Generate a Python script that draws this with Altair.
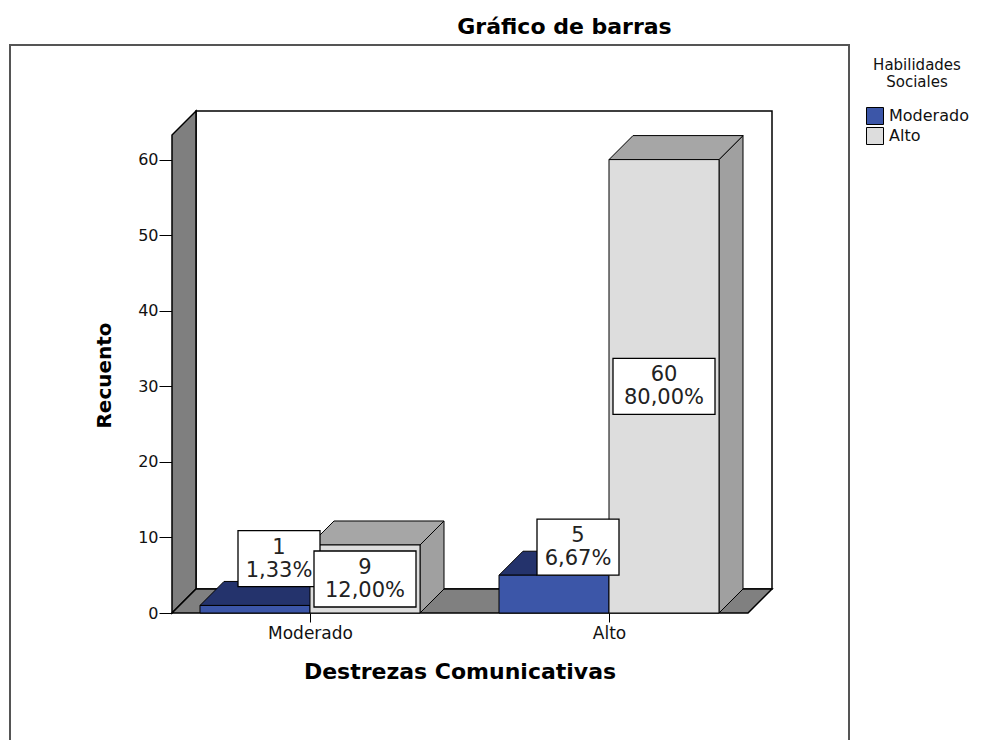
import altair as alt
import pandas as pd

# ---------------- data ----------------
categories = ["Moderado", "Alto"]            # Destrezas Comunicativas
series = ["Moderado", "Alto"]                # Habilidades Sociales
counts_moderado = [1, 5]                     # HS = Moderado
counts_alto = [9, 60]                        # HS = Alto
y_ticks = [0, 10, 20, 30, 40, 50, 60]

counts = [counts_moderado, counts_alto]
total = sum(counts_moderado) + sum(counts_alto)

# ---------------- layout (pixels) ----------------
W, H = 839, 700
PX_X = 299.0          # pixels between category centres
PX_Y = 7.557          # pixels per count unit
X0_PX = 300.0         # first category centre from plot left
Y0_PX = 568.0         # zero count from plot top
BAR_PX = 110.0
DEPTH_PX = 24.0
WALL_L_PX, WALL_R_PX, WALL_TOP_PX = 162.0, 738.0, 90.0
BOX_H_PX = 56.0

bw = BAR_PX / PX_X
dx = DEPTH_PX / PX_X
dy = DEPTH_PX / PX_Y
x_dom = [-X0_PX / PX_X, (W - X0_PX) / PX_X]
y_dom = [-(H - Y0_PX) / PX_Y, Y0_PX / PX_Y]
wall_l = (WALL_L_PX - X0_PX) / PX_X
wall_r = (WALL_R_PX - X0_PX) / PX_X
wall_top = (Y0_PX - WALL_TOP_PX) / PX_Y
box_h = BOX_H_PX / PX_Y

FRONT = {"Moderado": "#3c56a8", "Alto": "#dddddd"}
TOP = {"Moderado": "#24336c", "Alto": "#a6a6a6"}
SIDE = {"Moderado": "#24336c", "Alto": "#a0a0a0"}

bars, sides, tops = [], [], []
for i, cat in enumerate(categories):
    for j, s in enumerate(series):
        v = counts[j][i]
        xl = i + (j - 1) * bw
        xr = xl + bw
        pct = f"{v / total * 100:.2f}".replace(".", ",") + "%"
        fits = v * PX_Y >= BOX_H_PX + 6
        if fits:
            cx, cy = (xl + xr) / 2, v / 2
        else:
            cx, cy = (xl + xr) / 2 + dx, max(v + box_h / 2, 7.2)
        half_w = (20 * len(pct) - 18) / 2 / PX_X
        bid = f"{cat}-{s}"
        bars.append(dict(id=bid, cat=cat, series=s, count=v, zero=0.0, xl=xl, xr=xr,
                         label=f"{v}\n{pct}", cx=cx, cy=cy,
                         bx1=cx - half_w, bx2=cx + half_w,
                         by1=cy - box_h / 2, by2=cy + box_h / 2))
        sides += [dict(id=bid, x=xr, lo=0.0, hi=float(v), fill=SIDE[s]),
                  dict(id=bid, x=xr + dx, lo=dy, hi=v + dy, fill=SIDE[s])]
        tops += [dict(id=bid, y=float(v), xa=xl, xb=xr, fill=TOP[s]),
                 dict(id=bid, y=v + dy, xa=xl + dx, xb=xr + dx, fill=TOP[s])]

bars_df = pd.DataFrame(bars)
sides_df = pd.DataFrame(sides)
tops_df = pd.DataFrame(tops)
back_df = pd.DataFrame([dict(x1=wall_l + dx, x2=wall_r + dx, y1=dy, y2=wall_top + dy)])
lwall_df = pd.DataFrame([dict(x=wall_l, lo=0.0, hi=wall_top),
                         dict(x=wall_l + dx, lo=dy, hi=wall_top + dy)])
floor_df = pd.DataFrame([dict(y=0.0, xa=wall_l, xb=wall_r),
                         dict(y=dy, xa=wall_l + dx, xb=wall_r + dx)])

FONT = "DejaVu Sans"

x_axis = alt.Axis(values=[0, 1], labelExpr=f"{categories}[datum.value]",
                  title="Destrezas Comunicativas", offset=-(H - Y0_PX), domain=False,
                  grid=False, tickColor="black", tickSize=9, labelPadding=3,
                  labelFontSize=17, labelColor="#111", labelFont=FONT,
                  titleFontSize=22, titleFontWeight="bold", titleFont=FONT,
                  titleX=449.5, titleY=65, titleAlign="center", titleBaseline="alphabetic",
                  titleColor="black")
y_axis = alt.Axis(values=y_ticks, title="Recuento", offset=-WALL_L_PX, domain=False,
                  grid=False, tickColor="black", tickSize=13, labelPadding=1,
                  labelFontSize=16, labelColor="#111", labelFont=FONT,
                  titleFontSize=20, titleFontWeight="bold", titleFont=FONT,
                  titleX=-68, titleY=330, titleAngle=-90, titleAlign="center",
                  titleBaseline="middle", titleColor="black")


def X(f):
    return alt.X(f"{f}:Q", scale=alt.Scale(domain=x_dom, nice=False, zero=False), axis=x_axis, stack=None)


def Y(f):
    return alt.Y(f"{f}:Q", scale=alt.Scale(domain=y_dom, nice=False, zero=False), axis=y_axis, stack=None)


back = alt.Chart(back_df).mark_rect(fill="white", stroke="black", strokeWidth=1.5).encode(
    x=X("x1"), x2="x2", y=Y("y1"), y2="y2")

lwall = alt.Chart(lwall_df).mark_area(fill="#7f7f7f", stroke="black", strokeWidth=1.5).encode(
    x=X("x"), y=Y("lo"), y2="hi")

floor = alt.Chart(floor_df).mark_area(orient="horizontal", fill="#808080", stroke="black",
                                      strokeWidth=1.5).encode(
    y=Y("y"), x=X("xa"), x2="xb")

side_l = alt.Chart(sides_df).mark_area(stroke="black", strokeWidth=1).encode(
    x=X("x"), y=Y("lo"), y2="hi", detail="id:N", color=alt.Color("fill:N", scale=None))

top_l = alt.Chart(tops_df).mark_area(orient="horizontal", stroke="black", strokeWidth=1).encode(
    y=Y("y"), x=X("xa"), x2="xb", detail="id:N", color=alt.Color("fill:N", scale=None))

front = alt.Chart(bars_df).mark_rect(stroke="black", strokeWidth=1).encode(
    x=X("xl"), x2="xr", y=Y("zero"), y2="count",
    color=alt.Color("series:N",
                    scale=alt.Scale(domain=series, range=[FRONT[s] for s in series]),
                    legend=alt.Legend(title=["Habilidades", "Sociales"], orient="none",
                                      legendX=856, legendY=13, padding=0,
                                      titleFontSize=15, titleFontWeight="normal",
                                      titleLineHeight=17, titleFont=FONT,
                                      titleAnchor="middle", titleAlign="center",
                                      titlePadding=17, titleColor="#111",
                                      labelFontSize=16, labelFont=FONT, labelColor="#111",
                                      symbolType="square", symbolSize=289,
                                      symbolStrokeColor="black", symbolStrokeWidth=1,
                                      rowPadding=-3, labelOffset=5)))

boxes = alt.Chart(bars_df).mark_rect(fill="white", stroke="black", strokeWidth=1.3).encode(
    x=X("bx1"), x2="bx2", y=Y("by1"), y2="by2",
    strokeDash=alt.StrokeDash("series:N",
                              scale=alt.Scale(domain=series, range=[[1, 0], [3, 2]]),
                              legend=None))

texts = alt.Chart(bars_df).mark_text(font=FONT, fontSize=21, lineHeight=23, lineBreak="\n",
                                     align="center", baseline="middle", dy=-11,
                                     color="#222").encode(
    x=X("cx"), y=Y("cy"), text="label:N")

chart = alt.layer(back, lwall, floor, side_l, top_l, front, boxes, texts).properties(
    width=W, height=H,
    title=alt.TitleParams("Gráfico de barras", fontSize=22, fontWeight="bold", font=FONT,
                          anchor="middle", frame="group", dx=135, offset=-11,
                          baseline="alphabetic", color="black"),
    autosize=alt.AutoSizeParams(type="none"),
    padding={"left": 2, "top": 37, "right": 125, "bottom": 0},
).configure(font=FONT, background="white").configure_view(stroke="#555555", strokeWidth=2)

chart.save("out.html", embed_options={"renderer": "svg", "actions": False})
